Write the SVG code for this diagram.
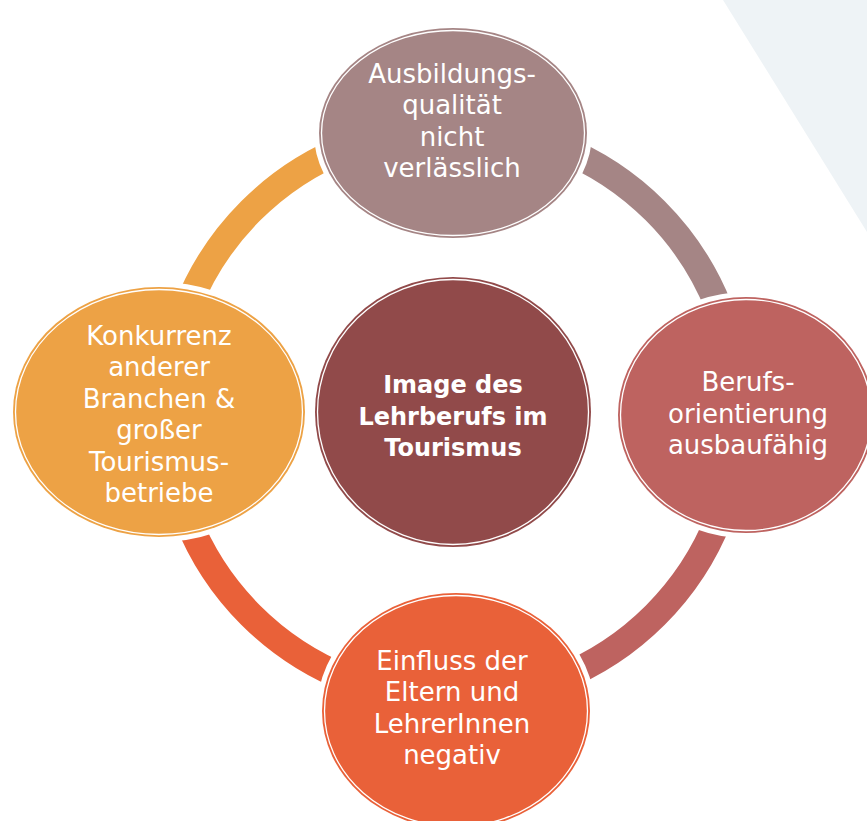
<svg xmlns="http://www.w3.org/2000/svg" width="867" height="821" viewBox="0 0 867 821">
  <style>
    .ring { fill: none; stroke-width: 27; }
    .halo { fill: none; stroke: #ffffff; stroke-width: 10; }
    .rim { fill: none; stroke: #ffffff; stroke-width: 1.3; }
    .lbl { font-family: "DejaVu Sans", "Liberation Sans", sans-serif; font-size: 26px; fill: #ffffff; text-anchor: middle; }
    .hub { font-family: "DejaVu Sans", "Liberation Sans", sans-serif; font-size: 24px; font-weight: bold; fill: #ffffff; text-anchor: middle; }
  </style>

  <rect x="0" y="0" width="867" height="821" fill="#ffffff"/>
  <polygon points="723,0 867,232 867,0" fill="#eef3f6"/>

  <!-- ring segments, centre (453,413), radius 286 -->
  <g id="connectors">
    <path class="ring" stroke="#eda245" d="M 167 413 A 286 286 0 0 1 453 127"/>
    <path class="ring" stroke="#a58585" d="M 453 127 A 286 286 0 0 1 739 413"/>
    <path class="ring" stroke="#be6360" d="M 739 413 A 286 286 0 0 1 453 699"/>
    <path class="ring" stroke="#e96139" d="M 453 699 A 286 286 0 0 1 167 413"/>
  </g>

  <g id="node-center">
    <ellipse class="halo" cx="453" cy="412" rx="138" ry="135"/>
    <ellipse cx="453" cy="412" rx="138" ry="135" fill="#914a4a"/>
    <ellipse class="rim" cx="453" cy="412" rx="135.5" ry="132.5"/>
    <text class="hub" x="453" y="393">Image des</text>
    <text class="hub" x="453" y="425">Lehrberufs im</text>
    <text class="hub" x="453" y="456">Tourismus</text>
  </g>

  <g id="node-top">
    <ellipse class="halo" cx="453" cy="133" rx="134" ry="105"/>
    <ellipse cx="453" cy="133" rx="134" ry="105" fill="#a58585"/>
    <ellipse class="rim" cx="453" cy="133" rx="131.5" ry="102.5"/>
    <text class="lbl" x="452" y="83">Ausbildungs-</text>
    <text class="lbl" x="452" y="114">qualität</text>
    <text class="lbl" x="452" y="146">nicht</text>
    <text class="lbl" x="452" y="177">verlässlich</text>
  </g>

  <g id="node-right">
    <ellipse class="halo" cx="746" cy="415" rx="128" ry="118"/>
    <ellipse cx="746" cy="415" rx="128" ry="118" fill="#be6360"/>
    <ellipse class="rim" cx="746" cy="415" rx="125.5" ry="115.5"/>
    <text class="lbl" x="748" y="391">Berufs-</text>
    <text class="lbl" x="748" y="423">orientierung</text>
    <text class="lbl" x="748" y="454">ausbaufähig</text>
  </g>

  <g id="node-bottom">
    <ellipse class="halo" cx="456" cy="711" rx="134" ry="118"/>
    <ellipse cx="456" cy="711" rx="134" ry="118" fill="#e96139"/>
    <ellipse class="rim" cx="456" cy="711" rx="131.5" ry="115.5"/>
    <text class="lbl" x="452" y="670">Einfluss der</text>
    <text class="lbl" x="452" y="701">Eltern und</text>
    <text class="lbl" x="452" y="733">LehrerInnen</text>
    <text class="lbl" x="452" y="764">negativ</text>
  </g>

  <g id="node-left">
    <ellipse class="halo" cx="159" cy="412" rx="146" ry="125"/>
    <ellipse cx="159" cy="412" rx="146" ry="125" fill="#eda245"/>
    <ellipse class="rim" cx="159" cy="412" rx="143.5" ry="122.5"/>
    <text class="lbl" x="159" y="345">Konkurrenz</text>
    <text class="lbl" x="159" y="376">anderer</text>
    <text class="lbl" x="159" y="408">Branchen &amp;</text>
    <text class="lbl" x="159" y="439">großer</text>
    <text class="lbl" x="159" y="471">Tourismus-</text>
    <text class="lbl" x="159" y="502">betriebe</text>
  </g>
</svg>
